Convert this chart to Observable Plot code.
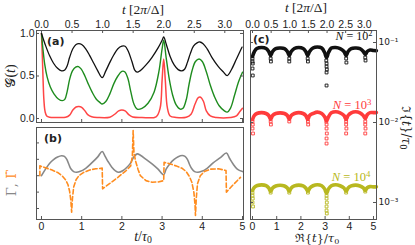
<!DOCTYPE html>
<html><head><meta charset="utf-8">
<script src="https://cdn.jsdelivr.net/npm/d3@7"></script>
<script src="https://cdn.jsdelivr.net/npm/@observablehq/plot@0.6"></script>
<style>
body{margin:0;background:#fff;}
#wrap{position:relative;width:415px;height:245px;overflow:hidden;font-family:"Liberation Sans",sans-serif;background:#fff;}
#wrap svg{position:absolute;left:0;top:0;}
.lbl{position:absolute;white-space:nowrap;line-height:1;transform:translate(-50%,-50%);color:#222;}
.serif{font-family:"Liberation Serif","DejaVu Serif",serif;}
.dserif{font-family:"DejaVu Serif",serif;}
.bold{font-family:"DejaVu Sans",sans-serif;font-weight:bold;font-size:11px;transform:none;}
sup{font-size:70%;vertical-align:0.45em;line-height:0;}
sub{font-size:70%;vertical-align:-0.25em;line-height:0;}
</style></head><body><div id="wrap"></div>
<script>
// ---------- data ----------
const K_A = 1.52;   // t/tau0 per unit of 2pi/Delta (panels a,b)
const K_C = 1.54;   // same for panel c
const topTicks = [0, 0.5, 1, 1.5, 2, 2.5, 3];
const bottomTicks = [0, 1, 2, 3, 4, 5];
const gTicks = [0, 0.5, 1];
const bTicks = [0, 1, 2, 3, 4];
const cTicks = [1e-1, 1e-2, 1e-3];
const cTickLabels = ["10⁻¹", "10⁻²", "10⁻³"];

// panel (a): G(t) vs t/tau0
const gBlack = [[0,1.0],[0.1,0.86],[0.2,0.74],[0.3,0.65],[0.4,0.59],[0.5,0.56],[0.58,0.57],[0.64,0.62],[0.7,0.72],[0.78,0.82],[0.86,0.87],[0.93,0.88],[1.0,0.87],[1.1,0.82],[1.2,0.74],[1.3,0.65],[1.4,0.56],[1.51,0.48],[1.6,0.56],[1.7,0.66],[1.8,0.75],[1.9,0.82],[2.0,0.85],[2.08,0.85],[2.15,0.8],[2.25,0.67],[2.32,0.57],[2.38,0.545],[2.45,0.56],[2.6,0.63],[2.75,0.72],[2.9,0.83],[3.0,0.92],[3.04,0.96],[3.1,0.88],[3.2,0.73],[3.3,0.63],[3.4,0.575],[3.48,0.56],[3.56,0.58],[3.63,0.66],[3.7,0.76],[3.78,0.85],[3.87,0.89],[3.94,0.9],[4.02,0.88],[4.12,0.82],[4.25,0.71],[4.4,0.61],[4.52,0.55],[4.62,0.505],[4.72,0.57],[4.85,0.7],[4.99,0.84]];
const gGreen = [[0,1.0],[0.04,0.8],[0.08,0.64],[0.14,0.49],[0.22,0.37],[0.31,0.29],[0.42,0.23],[0.52,0.21],[0.58,0.225],[0.64,0.32],[0.7,0.46],[0.77,0.56],[0.85,0.605],[0.92,0.61],[0.99,0.58],[1.07,0.51],[1.16,0.41],[1.26,0.31],[1.36,0.23],[1.45,0.19],[1.51,0.17],[1.6,0.2],[1.7,0.29],[1.8,0.41],[1.9,0.5],[2.0,0.555],[2.07,0.55],[2.15,0.47],[2.22,0.32],[2.3,0.17],[2.38,0.11],[2.5,0.12],[2.65,0.18],[2.8,0.31],[2.92,0.55],[3.0,0.82],[3.04,0.92],[3.1,0.72],[3.18,0.46],[3.26,0.28],[3.35,0.16],[3.45,0.11],[3.52,0.12],[3.6,0.22],[3.67,0.4],[3.75,0.57],[3.83,0.67],[3.92,0.7],[4.0,0.67],[4.1,0.55],[4.2,0.39],[4.3,0.26],[4.42,0.15],[4.55,0.09],[4.62,0.075],[4.7,0.12],[4.8,0.27],[4.9,0.43],[5.0,0.545]];
const gRed = [[0,1.0],[0.02,0.75],[0.04,0.45],[0.06,0.22],[0.09,0.08],[0.13,0.03],[0.2,0.015],[0.4,0.012],[0.6,0.015],[0.7,0.04],[0.78,0.1],[0.86,0.135],[0.93,0.14],[1.0,0.13],[1.08,0.09],[1.15,0.045],[1.25,0.02],[1.4,0.012],[1.7,0.015],[1.82,0.05],[1.92,0.09],[2.0,0.1],[2.08,0.09],[2.17,0.045],[2.27,0.018],[2.5,0.012],[2.85,0.02],[2.95,0.12],[3.0,0.45],[3.04,0.7],[3.08,0.45],[3.13,0.13],[3.2,0.03],[3.35,0.013],[3.6,0.015],[3.72,0.05],[3.82,0.17],[3.9,0.245],[3.96,0.25],[4.03,0.2],[4.1,0.09],[4.2,0.03],[4.35,0.012],[4.7,0.012],[4.85,0.03],[4.93,0.08],[5.0,0.12]];

// panel (b): Gamma (gray) and Gamma-dot (orange), arbitrary units
const gammaGray = [[0,2.0],[0.1,2.4],[0.2,2.75],[0.3,2.98],[0.4,3.14],[0.5,3.22],[0.57,3.18],[0.63,3.0],[0.68,2.7],[0.73,2.42],[0.8,2.25],[0.87,2.21],[0.95,2.25],[1.1,2.45],[1.25,2.78],[1.4,3.15],[1.51,3.48],[1.58,3.2],[1.66,2.85],[1.75,2.52],[1.84,2.3],[1.92,2.21],[2.02,2.3],[2.12,2.5],[2.21,2.75],[2.3,3.15],[2.38,3.33],[2.46,3.25],[2.6,3.0],[2.75,2.72],[2.9,2.4],[3.04,2.06],[3.1,2.4],[3.2,2.75],[3.3,3.0],[3.4,3.16],[3.5,3.23],[3.57,3.18],[3.63,3.0],[3.68,2.7],[3.74,2.42],[3.81,2.25],[3.89,2.21],[3.97,2.25],[4.12,2.45],[4.27,2.78],[4.45,3.1],[4.6,3.38],[4.68,3.05],[4.77,2.7],[4.87,2.4],[5.0,2.25]];
const gammaDot = [[-0.04,2.0],[-0.04,2.6],[0.06,2.52],[0.25,2.36],[0.4,2.2],[0.51,2.0],[0.6,1.75],[0.66,1.45],[0.7,1.05],[0.73,0.5],[0.75,-0.22],[0.77,0.6],[0.8,1.3],[0.86,1.75],[0.93,2.0],[1.05,2.2],[1.2,2.35],[1.35,2.42],[1.51,2.46],[1.52,1.2],[1.7,1.53],[1.9,1.9],[2.1,2.3],[2.22,2.6],[2.26,3.2],[2.28,4.75],[2.3,3.4],[2.34,2.9],[2.4,2.4],[2.46,2.0],[2.6,1.7],[2.75,1.6],[2.9,1.62],[3.04,1.7],[3.05,2.82],[3.2,2.72],[3.35,2.6],[3.5,2.45],[3.6,2.25],[3.68,1.95],[3.74,1.6],[3.79,1.0],[3.82,0.2],[3.83,-0.43],[3.85,0.6],[3.88,1.5],[3.95,2.0],[4.05,2.25],[4.2,2.4],[4.4,2.42],[4.59,2.32],[4.6,1.0],[4.75,1.4],[4.95,1.9]];

// panel (c): Im{t}/tau0 vs Re{t}/tau0
const n2Line = [[0,0.0668],[0.08,0.0772],[0.18,0.0841],[0.38,0.0866],[0.56,0.0841],[0.67,0.0772],[0.75,0.0688],[0.83,0.0772],[0.96,0.0841],[1.14,0.0853],[1.32,0.0841],[1.44,0.0772],[1.52,0.0688],[1.6,0.0772],[1.73,0.0841],[1.91,0.0866],[2.09,0.0841],[2.2,0.0772],[2.28,0.0688],[2.36,0.0772],[2.5,0.0853],[2.68,0.0879],[2.86,0.0853],[2.98,0.075],[3.06,0.0649],[3.14,0.075],[3.26,0.0853],[3.44,0.0866],[3.62,0.0841],[3.78,0.0772],[3.87,0.0688],[3.95,0.0772],[4.08,0.0841],[4.26,0.0853],[4.44,0.0841],[4.58,0.0772],[4.66,0.0708],[4.74,0.0772],[4.86,0.0805],[5.0,0.0795],[5.12,0.079]];
const n2Dots = [[0,0.0631],[0,0.0579],[0.01,0.0546],[0,0.0473],[0.01,0.0387],[0.75,0.0631],[0.76,0.0579],[1.52,0.0631],[1.52,0.0579],[2.28,0.0631],[2.29,0.0579],[3.05,0.0596],[3.06,0.0546],[3.06,0.0501],[3.07,0.046],[3.06,0.0422],[3.06,0.029],[3.87,0.0631],[3.88,0.0562],[4.66,0.0649],[4.67,0.0596]];
const n3Line = [[0,0.0109],[0.08,0.01224],[0.18,0.01296],[0.38,0.0133],[0.56,0.01296],[0.67,0.01224],[0.75,0.0109],[0.83,0.01224],[0.96,0.01296],[1.14,0.0132],[1.32,0.01296],[1.44,0.01224],[1.52,0.0109],[1.6,0.01224],[1.73,0.01296],[1.91,0.0133],[2.09,0.01296],[2.2,0.01224],[2.28,0.0109],[2.36,0.01224],[2.5,0.01296],[2.68,0.0135],[2.86,0.01296],[2.98,0.0118],[3.06,0.0105],[3.14,0.0118],[3.26,0.0132],[3.44,0.0136],[3.62,0.0132],[3.78,0.01224],[3.87,0.0109],[3.95,0.01224],[4.08,0.0132],[4.26,0.0136],[4.44,0.0132],[4.58,0.0122],[4.66,0.0112],[4.74,0.0125],[4.86,0.0133],[5.0,0.0133],[5.12,0.0133]];
const n3Dots = [[0,0.0103],[0.01,0.00944],[0,0.00841],[0.02,0.00729],[0.75,0.0103],[0.76,0.00944],[1.52,0.0103],[2.29,0.0103],[2.3,0.00944],[3.05,0.0103],[3.06,0.00944],[3.06,0.00841],[3.07,0.00729],[3.06,0.00631],[3.06,0.00546],[3.87,0.0103],[3.87,0.00944],[3.88,0.00841],[3.87,0.00729],[4.66,0.0103],[4.66,0.00944],[4.67,0.00841],[4.66,0.00729]];
const n4Line = [[0,0.00141],[0.08,0.00155],[0.2,0.00163],[0.38,0.00166],[0.56,0.00163],[0.67,0.00152],[0.75,0.00138],[0.83,0.00152],[0.96,0.00161],[1.14,0.00164],[1.32,0.00161],[1.44,0.00152],[1.52,0.00138],[1.6,0.00152],[1.73,0.00161],[1.91,0.00165],[2.09,0.00161],[2.2,0.00152],[2.29,0.00138],[2.37,0.00152],[2.5,0.00162],[2.68,0.00167],[2.86,0.00162],[2.98,0.00148],[3.06,0.0013],[3.14,0.00148],[3.26,0.00162],[3.44,0.00167],[3.62,0.00162],[3.78,0.00152],[3.87,0.00138],[3.95,0.00152],[4.08,0.00161],[4.26,0.00165],[4.44,0.00161],[4.58,0.00152],[4.66,0.00141],[4.74,0.00153],[4.86,0.00158],[5.0,0.00157],[5.12,0.00157]];
const n4Dots = [[0,0.00133],[0,0.00122],[0.01,0.00112],[0,0.001],[0.02,0.000891],[0.75,0.00133],[1.52,0.00133],[2.29,0.00133],[3.06,0.00122],[3.06,0.00112],[3.07,0.001],[3.06,0.000891],[3.06,0.000794],[3.07,0.000729],[3.87,0.00133],[4.66,0.00137]];

// ---------- drawing ----------
const FR = "#555";
const style = {background:"transparent", fontFamily:"Liberation Sans, sans-serif", fontSize:"10.5px", color:"#222", overflow:"visible"};
const X = d => d[0], Y = d => d[1];

const plotA = Plot.plot({
  width:415, height:245, style,
  marginLeft:36, marginRight:172, marginTop:30, marginBottom:123,
  x:{domain:[-0.124, 5.025]}, y:{domain:[-0.047, 1.035]},
  marks:[
    Plot.line(gRed, {x:X, y:Y, stroke:"#ff4545", strokeWidth:1.5, curve:"catmull-rom"}),
    Plot.line(gGreen, {x:X, y:Y, stroke:"#1e8c1e", strokeWidth:1.4, curve:"catmull-rom"}),
    Plot.line(gBlack, {x:X, y:Y, stroke:"#111", strokeWidth:1.3, curve:"catmull-rom"}),
    Plot.frame({stroke:FR}),
    Plot.axisX(topTicks.map(u => u*K_A), {anchor:"top", tickSize:0, tickPadding:3, tickFormat:d => (d/K_A).toFixed(1), label:null}),
    Plot.axisY(gTicks, {anchor:"left", tickSize:0, tickPadding:2, tickFormat:d => d.toFixed(1), label:null}),
    Plot.tickX(topTicks.map(u => u*K_A), {x:d => d, insetBottom:89, stroke:FR}),
    Plot.tickX(bottomTicks, {x:d => d, insetTop:89, stroke:FR}),
    Plot.tickY(gTicks, {y:d => d, insetRight:204, stroke:FR}),
    Plot.tickY(gTicks, {y:d => d, insetLeft:204, stroke:FR})
  ]
});

const plotB = Plot.plot({
  width:415, height:245, style,
  marginLeft:36, marginRight:172, marginTop:127, marginBottom:26,
  x:{domain:[-0.124, 5.025]}, y:{domain:[-0.67, 4.94]},
  marks:[
    Plot.line(gammaGray, {x:X, y:Y, stroke:"#888", strokeWidth:1.6, curve:"catmull-rom"}),
    Plot.line(gammaDot, {x:X, y:Y, stroke:"#ff8c1e", strokeWidth:1.6, strokeDasharray:"4.5,2.5"}),
    Plot.frame({stroke:FR}),
    Plot.axisX(bottomTicks, {anchor:"bottom", tickSize:0, tickPadding:3, label:null}),
    Plot.axisY([], {anchor:"left", label:null}),
    Plot.tickX(bottomTicks, {x:d => d, insetTop:89, stroke:FR}),
    Plot.tickY(bTicks, {y:d => d, insetRight:204, stroke:FR})
  ]
});

const plotC = Plot.plot({
  width:415, height:245, style,
  marginLeft:250, marginRight:39, marginTop:30, marginBottom:26,
  x:{domain:[-0.083, 5.124]}, y:{type:"log", domain:[0.000613, 0.1413]},
  marks:[
    Plot.line(n4Line, {x:X, y:Y, stroke:"#b8b820", strokeWidth:3.6, curve:"catmull-rom"}),
    Plot.dot(n4Dots, {x:X, y:Y, stroke:"#b8b820", symbol:"square", r:1.6, strokeWidth:0.9}),
    Plot.line(n3Line, {x:X, y:Y, stroke:"#ff3b3b", strokeWidth:3.6, curve:"catmull-rom"}),
    Plot.dot(n3Dots, {x:X, y:Y, stroke:"#ff3b3b", symbol:"square", r:1.6, strokeWidth:0.9}),
    Plot.line(n2Line, {x:X, y:Y, stroke:"#111", strokeWidth:3.6, curve:"catmull-rom"}),
    Plot.dot(n2Dots, {x:X, y:Y, stroke:"#111", symbol:"square", r:1.6, strokeWidth:0.9}),
    Plot.frame({stroke:FR}),
    Plot.axisX(topTicks.map(u => u*K_C), {anchor:"top", tickSize:0, tickPadding:3, tickFormat:d => (d/K_C).toFixed(1), label:null}),
    Plot.axisX(bottomTicks, {anchor:"bottom", tickSize:0, tickPadding:3, label:null}),
    Plot.axisY(cTicks, {anchor:"right", tickSize:0, tickPadding:2, tickFormat:d => cTickLabels[cTicks.indexOf(d)], fontFamily:"DejaVu Sans", fontSize:9, label:null}),
    Plot.tickX(topTicks.map(u => u*K_C), {x:d => d, insetBottom:186, stroke:FR}),
    Plot.tickX(bottomTicks, {x:d => d, insetTop:186, stroke:FR}),
    Plot.tickY(cTicks, {y:d => d, insetRight:123, stroke:FR}),
    Plot.tickY(cTicks, {y:d => d, insetLeft:123, stroke:FR})
  ]
});

const wrap = document.getElementById("wrap");
wrap.append(plotA, plotB, plotC);

const labels = `
<span class="lbl serif" style="left:143px;top:10px;font-size:13.5px"><i>t</i> [2<i>π</i>/Δ]</span>
<span class="lbl serif" style="left:306px;top:8px;font-size:13.5px"><i>t</i> [2<i>π</i>/Δ]</span>
<span class="lbl serif" style="left:11px;top:76px;font-size:14px;transform:translate(-50%,-50%) rotate(-90deg)">𝒢(<i>t</i>)</span>
<span class="lbl dserif" style="left:11px;top:183px;font-size:13px;transform:translate(-50%,-50%) rotate(-90deg)"><span style="color:#888">Γ,</span> <span style="color:#ff8c1e">Γ̇</span></span>
<span class="lbl serif" style="left:143px;top:237px;font-size:14px"><i>t</i>/<i>τ</i><sub>0</sub></span>
<span class="lbl dserif" style="left:317px;top:239px;font-size:11.5px">ℜ{<i>t</i>}/<i>τ</i><sub>0</sub></span>
<span class="lbl dserif" style="left:406px;top:128px;font-size:12px;transform:translate(-50%,-50%) rotate(90deg)">ℑ{<i>t</i>}/<i>τ</i><sub>0</sub></span>
<span class="lbl bold" style="left:47px;top:36px">(a)</span>
<span class="lbl bold" style="left:44px;top:133px">(b)</span>
<span class="lbl bold" style="left:253px;top:34px">(c)</span>
<span class="lbl serif" style="left:354px;top:36px;font-size:12px;color:#111"><i>N</i> = 10<sup>2</sup></span>
<span class="lbl serif" style="left:352px;top:105px;font-size:12.5px;color:#ff3b3b"><i>N</i> = 10<sup>3</sup></span>
<span class="lbl serif" style="left:351px;top:177px;font-size:12.5px;color:#b8b820"><i>N</i> = 10<sup>4</sup></span>
`;
wrap.insertAdjacentHTML("beforeend", labels);
</script></body></html>
